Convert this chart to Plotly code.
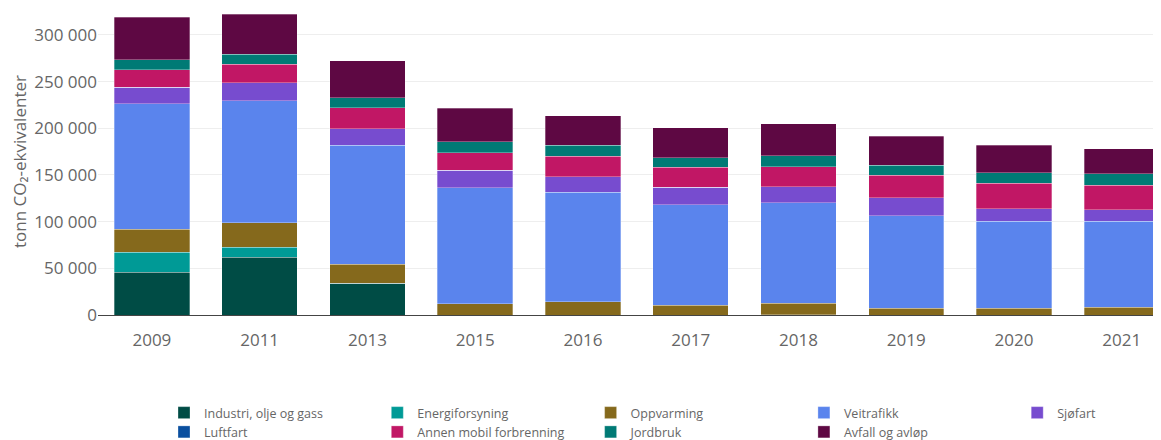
import plotly.graph_objects as go

years = ["2009", "2011", "2013", "2015", "2016", "2017", "2018", "2019", "2020", "2021"]

industri   = [45700, 62100, 33900, 0, 0, 0, 0, 0, 0, 0]
energi     = [21400, 10400, 0, 0, 0, 0, 400, 0, 0, 0]
oppvarming = [24700, 26400, 20400, 12100, 14300, 10700, 12100, 7100, 7100, 8200]
veitrafikk = [134300, 130700, 127500, 124000, 117100, 107500, 107600, 99300, 93600, 92500]
sjofart    = [17900, 19000, 17500, 19000, 16500, 18900, 17400, 19000, 13100, 11800]
luftfart   = [0, 0, 0, 0, 0, 0, 0, 0, 0, 0]
annen      = [18500, 20300, 22800, 18600, 22100, 21100, 21100, 24200, 27100, 26400]
jordbruk   = [10700, 10400, 10700, 11800, 11800, 10400, 11800, 10700, 11400, 12200]
avfall     = [45800, 42800, 39700, 36000, 31800, 31800, 34300, 31100, 29700, 27100]

series = [
    ("Industri, olje og gass", industri, "#004C45"),
    ("Energiforsyning", energi, "#009A96"),
    ("Oppvarming", oppvarming, "#85691C"),
    ("Veitrafikk", veitrafikk, "#5A84ED"),
    ("Sjøfart", sjofart, "#774CCF"),
    ("Luftfart", luftfart, "#0A4F9F"),
    ("Annen mobil forbrenning", annen, "#C11765"),
    ("Jordbruk", jordbruk, "#007A75"),
    ("Avfall og avløp", avfall, "#5E0843"),
]

fig = go.Figure()
for name, vals, color in series:
    fig.add_trace(go.Bar(
        x=years, y=vals, name=name,
        marker=dict(color=color, line=dict(color="rgba(255,255,255,0.6)", width=0.5)),
    ))

fig.update_layout(
    width=1153, height=432,
    barmode="stack",
    bargap=0.3,
    separators=", ",
    paper_bgcolor="white",
    plot_bgcolor="white",
    font=dict(family="Open Sans", color="#666666"),
    margin=dict(l=90, r=0, t=0, b=125, autoexpand=False),
    showlegend=True,
    legend=dict(
        orientation="h",
        x=0.0621, xanchor="left",
        y=-0.2704, yanchor="top",
        entrywidthmode="pixels", entrywidth=168.3,
        font=dict(size=12.5, color="#666666"),
        traceorder="normal",
    ),
    xaxis=dict(
        type="category",
        range=[-0.5, 9.364],
        automargin=False,
        showline=True, linecolor="#444444", linewidth=1,
        showgrid=False,
        tickfont=dict(size=17, color="#666666"),
        ticklabelstandoff=10,
    ),
    yaxis=dict(
        range=[0, 328900],
        automargin=False,
        tickvals=[0, 50000, 100000, 150000, 200000, 250000, 300000],
        tickformat=",d",
        showgrid=True, gridcolor="#eeeeee",
        zeroline=False,
        tickfont=dict(size=17, color="#666666"),
        title=dict(text="tonn CO₂-ekvivalenter", standoff=4,
                   font=dict(size=17, color="#666666")),
    ),
)

fig.write_html("out.html")
